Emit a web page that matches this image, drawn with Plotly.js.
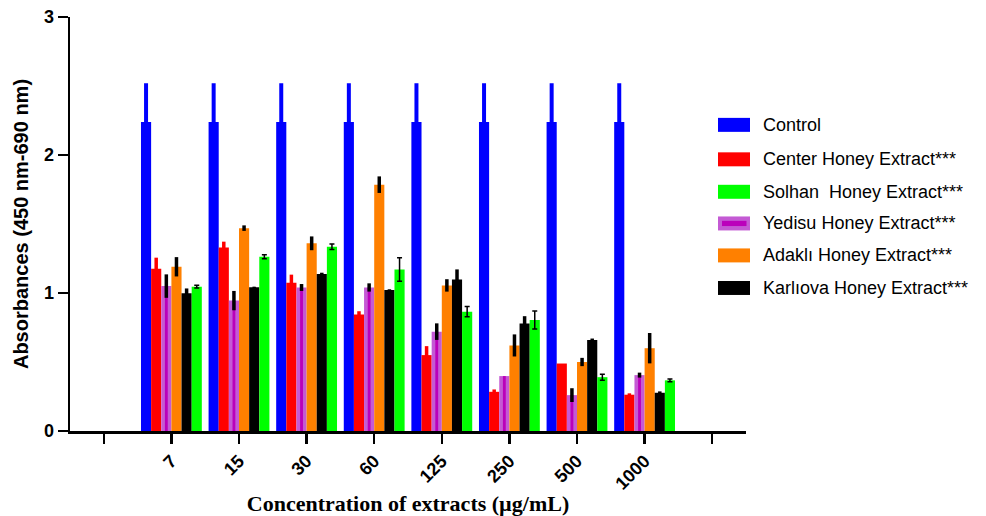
<!DOCTYPE html>
<html>
<head>
<meta charset="utf-8">
<script src="https://cdn.plot.ly/plotly-3.0.1.min.js"></script>
<style>html,body{margin:0;padding:0;background:#fff;}#chart{width:986px;height:516px;}</style>
</head>
<body>
<div id="chart"></div>
<script>
// ---- data ----
const categories = ['7', '15', '30', '60', '125', '250', '500', '1000'];
const seriesNames = ['Control', 'Center Honey Extract***', 'Solhan  Honey Extract***',
  'Yedisu Honey Extract***', 'Adaklı Honey Extract***', 'Karlıova Honey Extract***'];

const control     = [2.24, 2.24, 2.24, 2.24, 2.24, 2.24, 2.24, 2.24];
const controlErr  = [0.28, 0.28, 0.28, 0.28, 0.28, 0.28, 0.28, 0.28];
const center      = [1.176, 1.33, 1.075, 0.844, 0.55, 0.284, 0.489, 0.263];
const centerErr   = [0.08, 0.042, 0.058, 0.024, 0.065, 0.017, 0, 0.01];
const yedisu      = [1.05, 0.945, 1.04, 1.04, 0.72, 0.398, 0.26, 0.405];
const yedisuErr   = [0.085, 0.07, 0.025, 0.03, 0.06, 0, 0.05, 0.018];
const adakli      = [1.19, 1.47, 1.36, 1.785, 1.055, 0.62, 0.50, 0.60];
const adakliErr   = [0.07, 0.02, 0.05, 0.06, 0.045, 0.08, 0.03, 0.11];
const karliova    = [0.998, 1.041, 1.137, 1.022, 1.097, 0.779, 0.66, 0.277];
const karliovaErr = [0.035, 0.005, 0.01, 0.005, 0.074, 0.053, 0.01, 0.01];
const solhan      = [1.046, 1.263, 1.335, 1.17, 0.865, 0.805, 0.39, 0.367];
const solhanErr   = [0.01, 0.015, 0.02, 0.085, 0.038, 0.065, 0.022, 0.01];

const yTicks = [0, 1, 2, 3];

// ---- build ----
const xs = categories.map((c, i) => i + 1);
const tickvals = [0].concat(xs, [categories.length + 1]);
const ticktext = [''].concat(categories, ['']);

const BW = 0.15;
const COL = {
  blue: '#0000ff', red: '#ff0000', green: '#00ff00',
  purpleLight: '#c45ad4', purpleDark: '#bb00bb', orange: '#ff8000', black: '#000000'
};

function barTrace(name, y, color, offset, width, err, errColor, thick, capw) {
  const t = {
    type: 'bar', name: name, x: xs, y: y, offset: offset, width: width,
    marker: {color: color, line: {width: 0}}, showlegend: false, hoverinfo: 'y+name'
  };
  if (err) {
    t.error_y = {type: 'data', array: err, visible: true, color: errColor, thickness: thick, width: capw};
  }
  return t;
}

const data = [
  barTrace(seriesNames[0], control, COL.blue, -3 * BW, BW, controlErr, COL.blue, 4, 0),
  barTrace(seriesNames[1], center, COL.red, -2 * BW, BW, centerErr, COL.red, 3.5, 0),
  barTrace(seriesNames[3], yedisu, COL.purpleLight, -1 * BW, BW, null),
  barTrace(seriesNames[3], yedisu, COL.purpleDark, -1 * BW + BW * 0.36, BW * 0.28, yedisuErr, COL.black, 3.5, 0),
  barTrace(seriesNames[4], adakli, COL.orange, 0, BW, adakliErr, COL.black, 3.5, 0),
  barTrace(seriesNames[5], karliova, COL.black, BW, BW, karliovaErr, COL.black, 3.5, 0),
  barTrace(seriesNames[2], solhan, COL.green, 2 * BW, BW, solhanErr, COL.black, 1.5, 2.5)
];

// plot area in pixels
const L = 70, R = 746, T = 17, B = 431.5;
const px2x = p => (p - L) / (R - L);
const py2y = p => (B - p) / (B - T);

const legendColors = [COL.blue, COL.red, COL.green, COL.purpleLight, COL.orange, COL.black];
const legendRows = [125, 159.5, 192, 223.7, 255.7, 288.3];
const shapes = [];
const annotations = [];
seriesNames.forEach((n, i) => {
  const cy = legendRows[i];
  shapes.push({type: 'rect', xref: 'paper', yref: 'paper',
    x0: px2x(718), x1: px2x(750), y0: py2y(cy + 7), y1: py2y(cy - 7),
    fillcolor: legendColors[i], line: {width: 0}});
  if (i === 3) {
    shapes.push({type: 'rect', xref: 'paper', yref: 'paper',
      x0: px2x(722), x1: px2x(746.5), y0: py2y(cy + 2.6), y1: py2y(cy - 2.6),
      fillcolor: COL.purpleDark, line: {width: 0}});
  }
  annotations.push({xref: 'paper', yref: 'paper', x: px2x(761), y: py2y(cy),
    xanchor: 'left', yanchor: 'middle', showarrow: false,
    text: n.replace(/  /g, ' \u00a0'),
    font: {family: 'Liberation Sans, Arial, sans-serif', size: 18, color: '#000'}});
});

const layout = {
  width: 986, height: 516,
  margin: {l: L, r: 986 - R, t: T, b: 516 - B, pad: 0},
  paper_bgcolor: '#fff', plot_bgcolor: '#fff',
  barmode: 'overlay',
  showlegend: false,
  font: {family: 'Liberation Sans, Arial, sans-serif', color: '#000'},
  xaxis: {
    range: [-0.5, categories.length + 1.5], tickmode: 'array', tickvals: tickvals, ticktext: ticktext,
    tickangle: -45, ticks: 'outside', ticklen: 10, tickwidth: 2.5, tickcolor: '#000',
    showline: true, linewidth: 2.5, linecolor: '#000', showgrid: false, zeroline: false,
    tickfont: {family: 'Liberation Sans, Arial, sans-serif', size: 18, weight: 'bold', color: '#000'},
    title: {text: 'Concentration of extracts (µg/mL)', standoff: 12,
      font: {family: 'Liberation Serif, Times New Roman, serif', size: 22, weight: 'bold', color: '#000'}}
  },
  yaxis: {
    range: [0, 3], tickmode: 'array', tickvals: yTicks, ticktext: yTicks.map(String),
    ticks: 'outside', ticklen: 10, tickwidth: 2.5, tickcolor: '#000',
    showline: true, linewidth: 2.5, linecolor: '#000', showgrid: false, zeroline: false,
    tickfont: {family: 'Liberation Sans, Arial, sans-serif', size: 18, weight: 'bold', color: '#000'},
    title: {text: 'Absorbances (450 nm-690 nm)', standoff: 10,
      font: {family: 'Liberation Sans, Arial, sans-serif', size: 20, weight: 'bold', color: '#000'}}
  },
  shapes: shapes,
  annotations: annotations
};

Plotly.newPlot('chart', data, layout, {displayModeBar: false, staticPlot: true});
</script>
</body>
</html>
